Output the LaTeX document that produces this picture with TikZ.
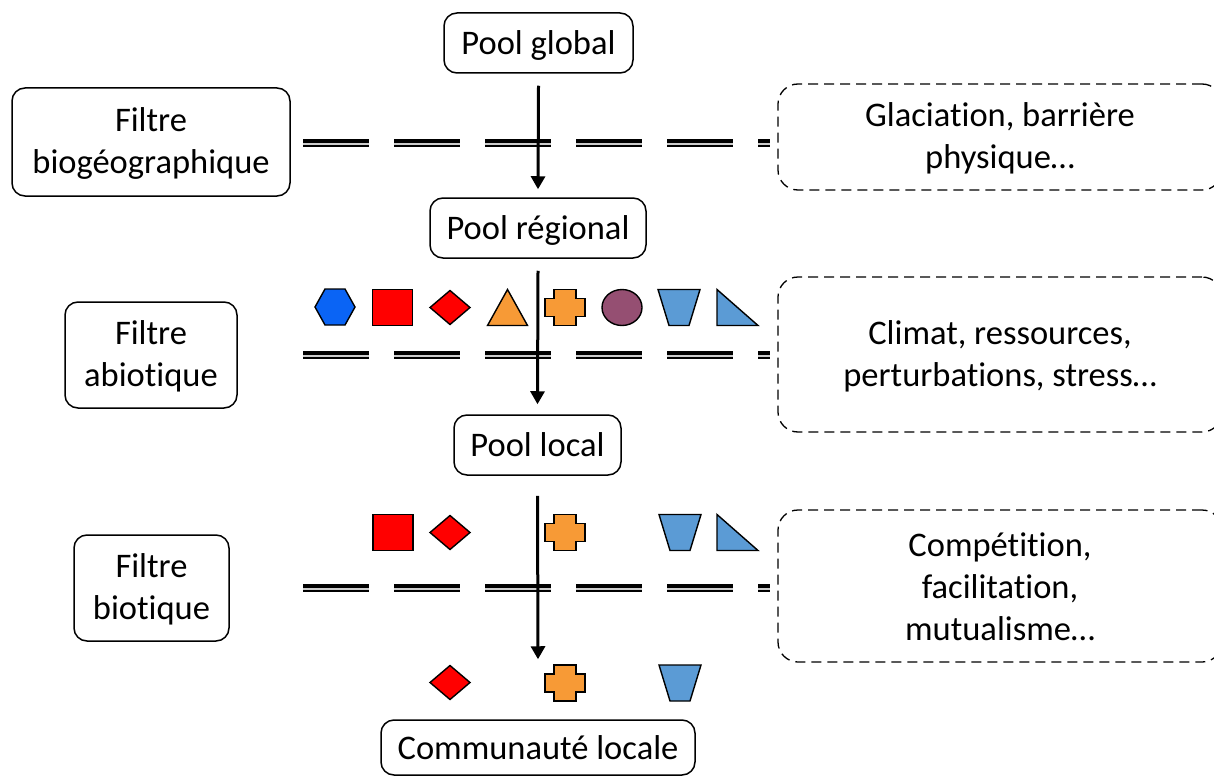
\documentclass[tikz,border=0pt]{standalone}
\usepackage{fontspec}
\setmainfont{Carlito}[RawFeature={-liga;-clig;-dlig;-calt}]
\usetikzlibrary{arrows.meta}
\definecolor{hexblue}{HTML}{0A64F5}
\definecolor{shred}{HTML}{FF0000}
\definecolor{shorange}{HTML}{F79A36}
\definecolor{shpurple}{HTML}{954F72}
\definecolor{shblue}{HTML}{5B9BD5}
\newcommand{\ti}{t\kern0pt i}
\tikzset{
  boxfont/.style={font=\fontsize{34.5}{42}\selectfont},
  solidbox/.style={draw, line width=1.5pt, rounded corners=13pt, inner sep=0pt, align=center, boxfont},
  dashbox/.style={draw, line width=1.3pt, dash pattern=on 10pt off 6pt, rounded corners=20pt, inner sep=0pt, align=center, boxfont},
  txt/.style={align=center, boxfont, inner sep=0pt},
  flow/.style={line width=3pt, -{Triangle[length=13pt,width=14pt]}},
  shp/.style={draw, line width=1.4pt, line join=miter},
  pics/hexa/.style={code={\draw[shp,fill=hexblue] (-20,0)--(-10,-18)--(10,-18)--(20,0)--(10,18)--(-10,18)--cycle;}},
  pics/sqr/.style={code={\draw[shp,fill=shred] (-20,-18) rectangle (20,18);}},
  pics/diam/.style={code={\draw[shp,fill=shred] (-20,0)--(0,-17)--(20,0)--(0,17)--cycle;}},
  pics/tri/.style={code={\draw[shp,fill=shorange] (-20,18)--(0,-18)--(20,18)--cycle;}},
  pics/crs/.style={code={\draw[shp,fill=shorange] (-11,-18)--(11,-18)--(11,-9)--(20,-9)--(20,9)--(11,9)--(11,18)--(-11,18)--(-11,9)--(-20,9)--(-20,-9)--(-11,-9)--cycle;}},
  pics/ell/.style={code={\draw[shp,fill=shpurple] (0,0) ellipse [x radius=20, y radius=18];}},
  pics/trap/.style={code={\draw[shp,fill=shblue] (-21,-18)--(21,-18)--(10,18)--(-10,18)--cycle;}},
  pics/rtri/.style={code={\draw[shp,fill=shblue] (-20,-18)--(-20,18)--(21,18)--cycle;}}
}
\begin{document}
\begin{tikzpicture}[x=1pt,y=-1pt]
\clip (0,0) rectangle (1214,778);
\fill[white] (0,0) rectangle (1214,778);

% double dashed filter lines
\foreach \yy in {143,355,588}{
  \draw[line width=8pt, dash pattern=on 66pt off 25pt] (303,\yy) -- (770,\yy);
  \draw[line width=1.3pt, color=gray!40, dash pattern=on 66pt off 25pt] (303,\yy+1) -- (770,\yy+1);
}

% central pools
\node[solidbox, minimum width=189pt, minimum height=60pt, text depth=-3pt] (pg) at (538.5,43) {Pool global};
\node[solidbox, minimum width=216pt, minimum height=60pt, text depth=-3pt] (pr) at (538,228) {Pool régional};
\node[solidbox, minimum width=167pt, minimum height=60pt, text depth=-3pt] (pl) at (537.5,445) {Pool local};
\node[solidbox, minimum width=314pt, minimum height=55pt, text depth=-3pt] (cl) at (538,747.5) {Communauté locale};

% filters left
\node[solidbox, minimum width=278pt, minimum height=108pt,
  label={[txt, yshift=-1pt]center:Filtre\\biogéographique}] (fbg) at (151,142) {};
\node[solidbox, minimum width=172pt, minimum height=106pt,
  label={[txt, yshift=-1pt]center:Filtre\\abio\ti que}] (fab) at (151,355) {};
\node[solidbox, minimum width=155pt, minimum height=106pt,
  label={[txt, yshift=-1pt]center:Filtre\\bio\ti que}] (fbi) at (151.5,588) {};

% dashed boxes right
\node[dashbox, minimum width=444pt, minimum height=106pt,
  label={[txt, yshift=-1pt]center:Glacia\ti on, barrière\\physique…}] (d1) at (1000,137) {};
\node[dashbox, minimum width=444pt, minimum height=155pt,
  label={[txt, yshift=-2pt]center:Climat, ressources,\\perturba\ti ons, stress…}] (d2) at (1000,354.5) {};
\node[dashbox, minimum width=444pt, minimum height=152pt,
  label={[txt, yshift=-1pt]center:Compé\ti\ti on,\\facilita\ti on,\\mutualisme…}] (d3) at (1000,586) {};

% species row 1
\pic at (335,307) {hexa};
\pic at (392.5,307.5) {sqr};
\pic at (450,307.5) {diam};
\pic at (507.5,307.5) {tri};
\pic at (565,307.5) {crs};
\pic at (622,307.5) {ell};
\pic at (679,307.5) {trap};
\pic at (737,307.5) {rtri};

% species row 2
\pic at (393,532.5) {sqr};
\pic at (450,532.5) {diam};
\pic at (565,532.5) {crs};
\pic at (680,532.5) {trap};
\pic at (737,532.5) {rtri};

% species row 3
\pic at (450,682.5) {diam};
\pic at (565,683) {crs};
\pic at (680,683) {trap};

% arrows
\draw[flow] ([yshift=-12pt]pg.south) -- ([yshift=8pt]pr.north);
\draw[flow] ([yshift=-12pt]pr.south) -- ([yshift=10pt]pl.north);
\draw[flow] ([yshift=-20pt]pl.south) -- ([yshift=60pt]cl.north);
\end{tikzpicture}
\end{document}
